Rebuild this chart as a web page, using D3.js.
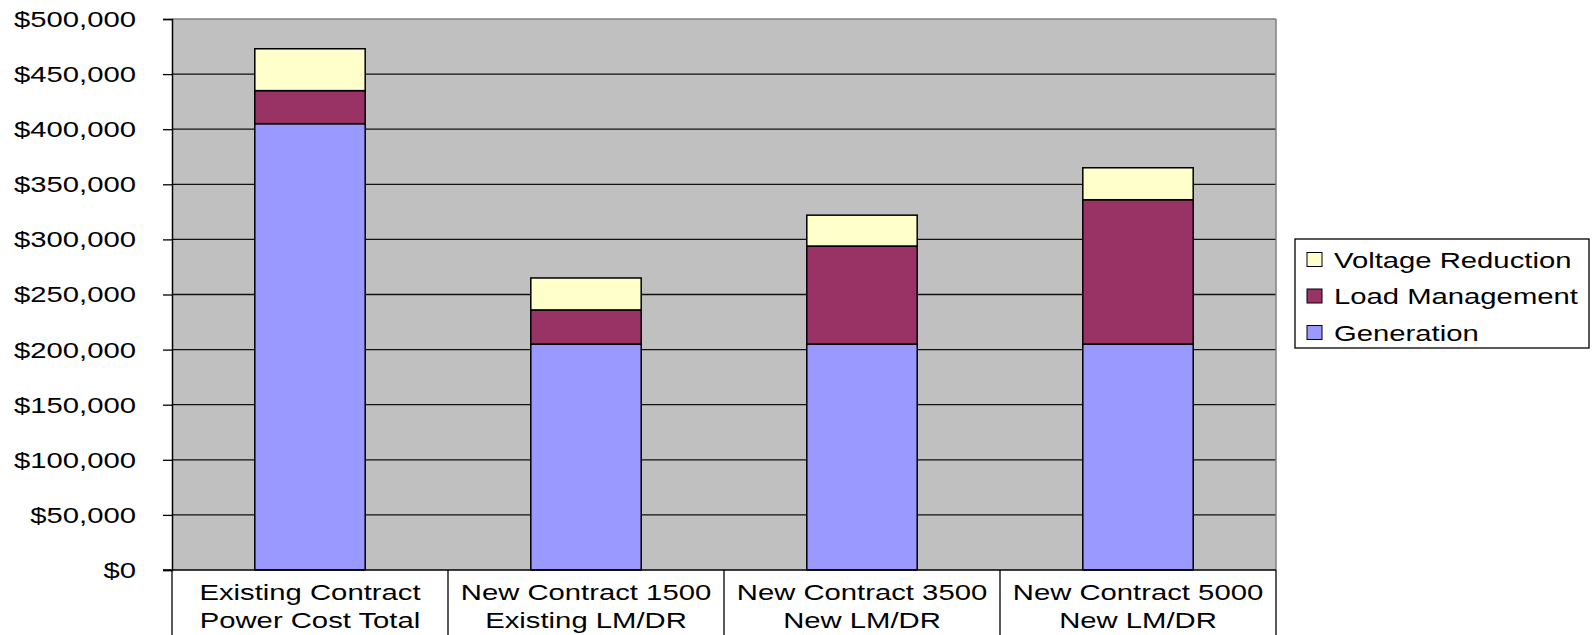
<!DOCTYPE html>
<html>
<head>
<meta charset="utf-8">
<script src="https://cdn.jsdelivr.net/npm/d3@7/dist/d3.min.js"></script>
<style>
  body { margin: 0; background: #fff; }
  text { font-family: "Liberation Sans", Arial, sans-serif; fill: #000; }
</style>
</head>
<body>
<div id="chart"></div>
<script>
const categories = [
  ["Existing Contract", "Power Cost Total"],
  ["New Contract 1500", "Existing LM/DR"],
  ["New Contract 3500", "New LM/DR"],
  ["New Contract 5000", "New LM/DR"],
];
const seriesNames = ["Generation", "Load Management", "Voltage Reduction"];
const generation = [405000, 205000, 205000, 205000];
const loadManagement = [30000, 31000, 89000, 131000];
const voltageReduction = [38000, 29000, 28000, 29000];
const yTicks = [0, 50000, 100000, 150000, 200000, 250000, 300000, 350000, 400000, 450000, 500000];
const colors = { "Generation": "#9999FF", "Load Management": "#993366", "Voltage Reduction": "#FFFFCC" };

const W = 1594, H = 635;
const m = { left: 172, right: 318, top: 19, bottom: 65 };
const pw = W - m.left - m.right, ph = H - m.top - m.bottom;
const stretch = 1.33; // text in the original is widened horizontally
const fs = 22;

const svg = d3.select("#chart").append("svg").attr("width", W).attr("height", H);
const g = svg.append("g").attr("transform", `translate(${m.left},${m.top})`);

const x = d3.scaleBand().domain(d3.range(categories.length)).range([0, pw]);
const y = d3.scaleLinear().domain([0, 500000]).range([ph, 0]);

const table = categories.map((c, i) => ({
  i: i,
  "Generation": generation[i],
  "Load Management": loadManagement[i],
  "Voltage Reduction": voltageReduction[i],
}));
const stacked = d3.stack().keys(seriesNames)(table);

// plot background
g.append("rect").attr("width", pw).attr("height", ph).attr("fill", "#C0C0C0");

// gridlines
g.selectAll(".grid").data(yTicks.slice(1)).enter().append("line")
  .attr("x1", 0).attr("x2", pw)
  .attr("y1", d => y(d)).attr("y2", d => y(d))
  .attr("stroke", d => d === 500000 ? "#808080" : "#111").attr("stroke-width", 1.3);
g.append("line").attr("x1", pw).attr("x2", pw).attr("y1", 0).attr("y2", ph)
  .attr("stroke", "#808080").attr("stroke-width", 1.5);

// bars
const bw = x.bandwidth() / 2.5;
stacked.forEach(s => {
  g.selectAll(null).data(s).enter().append("rect")
    .attr("x", d => x(d.data.i) + (x.bandwidth() - bw) / 2)
    .attr("width", bw)
    .attr("y", d => y(d[1]))
    .attr("height", d => y(d[0]) - y(d[1]))
    .attr("fill", colors[s.key])
    .attr("stroke", "#000").attr("stroke-width", 1.5);
});

// y axis
const yAxis = d3.axisLeft(y).tickValues(yTicks).tickSize(9).tickPadding(0)
  .tickFormat(d => "$" + d3.format(",")(d));
const ya = g.append("g").call(yAxis);
ya.select(".domain").attr("stroke", "#000").attr("stroke-width", 1.5);
ya.selectAll(".tick line").attr("stroke", "#000").attr("stroke-width", 1.3);
ya.selectAll(".tick text")
  .attr("x", 0).attr("dy", "0.34em")
  .attr("transform", `translate(-36,0) scale(${stretch},1)`)
  .attr("font-size", fs).attr("font-family", "Liberation Sans, Arial, sans-serif").attr("fill", "#000");

// x axis line and category boxes
g.append("line").attr("x1", -9).attr("x2", pw).attr("y1", ph).attr("y2", ph)
  .attr("stroke", "#000").attr("stroke-width", 1.5);
const seps = d3.range(categories.length + 1).map(i => i < categories.length ? x(i) : pw);
g.selectAll(".sep").data(seps).enter().append("line")
  .attr("x1", d => d).attr("x2", d => d)
  .attr("y1", ph).attr("y2", H - m.top)
  .attr("stroke", "#000").attr("stroke-width", 1.3);

categories.forEach((c, i) => {
  c.forEach((line, j) => {
    g.append("text")
      .attr("text-anchor", "middle").attr("font-size", fs)
      .attr("transform", `translate(${x(i) + x.bandwidth() / 2},${ph + 30 + j * 28}) scale(${stretch},1)`)
      .text(line);
  });
});

// legend
const lg = svg.append("g").attr("transform", "translate(1295,239)");
lg.append("rect").attr("width", 294).attr("height", 109)
  .attr("fill", "#fff").attr("stroke", "#000").attr("stroke-width", 1.3);
const legendOrder = seriesNames.slice().reverse();
legendOrder.forEach((k, i) => {
  const row = lg.append("g").attr("transform", `translate(0,${20.5 + i * 36.5})`);
  row.append("rect").attr("x", 12).attr("y", -7).attr("width", 15).attr("height", 14)
    .attr("fill", colors[k]).attr("stroke", "#000").attr("stroke-width", 1);
  row.append("text").attr("transform", `translate(39,8) scale(${stretch},1)`)
    .attr("font-size", fs).text(k);
});
</script>
</body>
</html>
